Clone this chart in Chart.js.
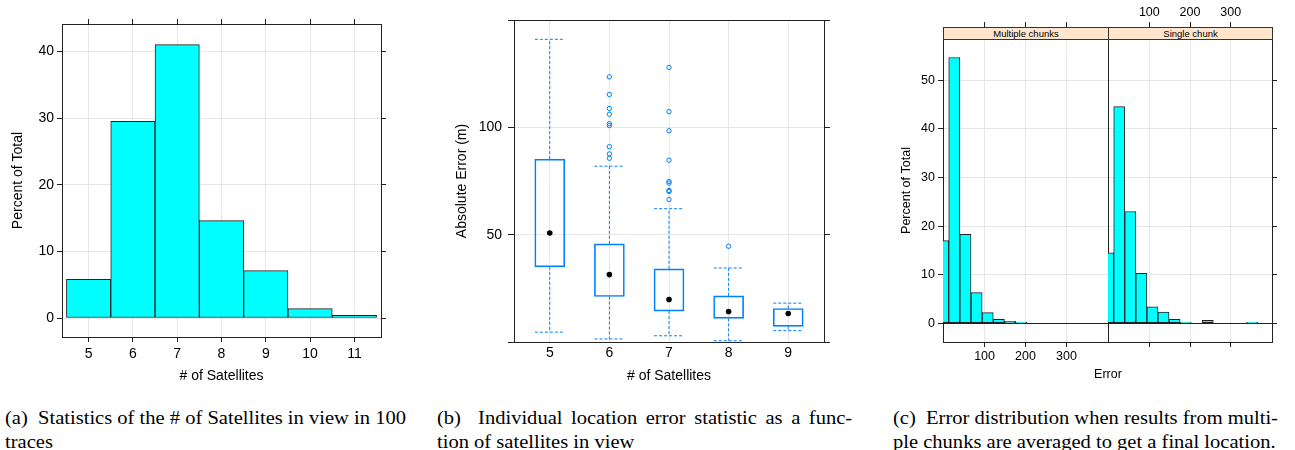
<!DOCTYPE html>
<html>
<head>
<meta charset="utf-8">
<title>Satellites in view and location error</title>
<script src="https://cdn.jsdelivr.net/npm/chart.js@4.4.1/dist/chart.umd.min.js"></script>
<style>
  body { margin: 0; width: 1295px; height: 450px; position: relative; overflow: hidden; background: #fff; font-family: "Liberation Sans", Arial, sans-serif; }
  canvas { position: absolute; top: 0; }
  .strip { position: absolute; top: 27px; height: 13px; box-sizing: border-box; border: 1px solid #333; background: #ffe5cc; font-size: 9.5px; line-height: 11px; text-align: center; color: #000; }
  .xlab { position: absolute; font-size: 12.5px; line-height: 15px; color: #000; transform: translateX(-50%); }
  .cap { position: absolute; font-family: "Liberation Serif", "Times New Roman", serif; font-size: 18.5px; line-height: 24px; color: #000; white-space: nowrap; transform-origin: 0 0; transform: scaleX(1.11); }
  .just { text-align: justify; text-align-last: justify; }
</style>
</head>
<body>
<canvas id="satHist" width="400" height="385" style="left:0"></canvas>
<canvas id="errBox" width="420" height="385" style="left:430px"></canvas>
<canvas id="multiHist" width="218" height="390" style="left:890px"></canvas>
<canvas id="singleHist" width="195" height="390" style="left:1100px"></canvas>
<div class="strip" style="left:943px;width:166px">Multiple chunks</div>
<div class="strip" style="left:1108px;width:165px">Single chunk</div>
<div class="xlab" style="left:1108px;top:367px">Error</div>
<div class="cap" style="left:5px;top:406px">(a)&nbsp; Statistics of the # of Satellites in view in 100<br>traces</div>
<div class="cap" style="left:437px;top:406px"><div class="just" style="width:374px">(b)&nbsp; Individual location error statistic as a func-</div>tion of satellites in view</div>
<div class="cap" style="left:893px;top:406px">(c)&nbsp; Error distribution when results from multi-<br>ple chunks are averaged to get a final location.</div>
<script>
// (a) number of satellites in view
const satCounts = [5, 6, 7, 8, 9, 10, 11];
const satPercent = [5.8, 29.5, 41.0, 14.6, 7.1, 1.4, 0.4];
const satTicks = [5, 6, 7, 8, 9, 10, 11];
const pctTicksA = [0, 10, 20, 30, 40];

// (b) absolute error per number of satellites
const boxSats = [5, 6, 7, 8, 9];
const whiskerLow = [4.6, 1.4, 2.9, 0.6, 5.3];
const boxQ1 = [35.0, 21.2, 14.4, 11.0, 7.3];
const boxMedian = [50.8, 31.4, 19.8, 14.2, 13.3];
const boxQ3 = [85.2, 45.7, 34.1, 21.5, 15.6];
const whiskerHigh = [141.0, 81.9, 62.1, 34.5, 18.1];
const outlierSats = [6, 6, 6, 6, 6, 6, 6, 6, 6, 7, 7, 7, 7, 7, 7, 7, 7, 7, 8];
const outlierErrors = [123.5, 115.3, 108.8, 106.1, 101.7, 100.8, 91.0, 87.6, 85.6,
                       127.9, 107.3, 98.4, 84.7, 74.8, 74.0, 70.6, 70.1, 66.4, 44.6];
const errTicksB = [0, 50, 100, 150];
const errLabelsB = ['', '50', '100', ''];

// (c) error histograms, bin centres in metres
const errBins = [-1.1, 26.1, 53.3, 80.5, 107.7, 134.9, 162.1, 189.3, 216.5, 243.7, 270.9, 298.1, 325.3, 352.5, 379.7];
const multiPercent = [17.0, 54.7, 18.3, 6.3, 2.2, 0.8, 0.4, 0.2, 0, 0, 0, 0, 0, 0, 0];
const singlePercent = [14.5, 44.6, 23.0, 10.3, 3.4, 2.3, 0.8, 0.2, 0, 0.6, 0, 0, 0, 0.2];
const errTicksC = [100, 200, 300];
const pctTicksC = [0, 10, 20, 30, 40, 50];

const FRAME = '#222';
const GRID = '#e6e6e6';
const CYAN = '#00ffff';
const BLUE = '#0080ff';
const capHalf = 0.25;

Chart.defaults.font.family = '"Liberation Sans", Arial, sans-serif';
Chart.defaults.color = '#000';
Chart.defaults.animation = false;

// lattice-like axis: fixed size, ticks from a list, optional labels/title
function axis(position, min, max, ticks, size, opt) {
  const a = {
    type: 'linear', position: position, min: min, max: max, offset: false,
    afterBuildTicks: s => { s.ticks = ticks.map(v => ({ value: v })); },
    afterFit: s => { if (s.isHorizontal()) s.height = size; else s.width = size; },
    grid: {
      display: true, offset: false, drawOnChartArea: !!opt.grid, color: opt.gridColor || GRID,
      drawTicks: !!opt.tick, tickLength: opt.tick || 0, tickColor: FRAME
    },
    border: { display: true, color: FRAME, width: 1 },
    ticks: { display: !!opt.labels, color: '#000', padding: opt.pad || 0, font: { size: opt.fontSize || 14 } },
    title: { display: false }
  };
  if (Array.isArray(opt.labels)) a.ticks.callback = (v, i) => opt.labels[i];
  else if (opt.labels) a.ticks.callback = v => v;
  if (opt.title) a.title = { display: true, text: opt.title, color: '#000', padding: 0, font: { size: opt.fontSize || 14 } };
  return a;
}

const noPlugins = { legend: { display: false }, tooltip: { enabled: false } };

// (a)
new Chart(document.getElementById('satHist'), {
  type: 'bar',
  data: {
    datasets: [{
      data: satCounts.map((s, i) => ({ x: s, y: satPercent[i] })),
      backgroundColor: CYAN, borderColor: FRAME, borderWidth: 1, borderSkipped: false,
      barPercentage: 1, categoryPercentage: 1
    }]
  },
  options: {
    responsive: false,
    layout: { padding: { left: 10, right: 0, top: 0, bottom: 0 } },
    plugins: noPlugins,
    scales: {
      x: axis('bottom', 4.4, 11.6, satTicks, 48, { grid: true, tick: 5, labels: true, pad: 4, title: '# of Satellites' }),
      x2: axis('top', 4.4, 11.6, satTicks, 24, { tick: 5 }),
      y: axis('left', -2.85, 44.1, pctTicksA, 52, { grid: true, tick: 5, labels: true, pad: 3, title: 'Percent of Total' }),
      y2: axis('right', -2.85, 44.1, pctTicksA, 19, { tick: 5 })
    }
  }
});

// (b)
const whiskerPts = [];
const capPts = [];
boxSats.forEach((s, i) => {
  whiskerPts.push({ x: s, y: boxQ3[i] }, { x: s, y: whiskerHigh[i] }, { x: s, y: null });
  whiskerPts.push({ x: s, y: boxQ1[i] }, { x: s, y: whiskerLow[i] }, { x: s, y: null });
  [whiskerHigh[i], whiskerLow[i]].forEach(v => {
    capPts.push({ x: s - capHalf, y: v }, { x: s + capHalf, y: v }, { x: s, y: null });
  });
});

new Chart(document.getElementById('errBox'), {
  type: 'bar',
  data: {
    datasets: [
      {
        type: 'bar', order: 3,
        data: boxSats.map((s, i) => ({ x: s, y: [boxQ1[i], boxQ3[i]] })),
        backgroundColor: 'rgba(0,0,0,0)', borderColor: BLUE, borderWidth: 1, borderSkipped: false,
        barThickness: 30
      },
      {
        type: 'line', order: 2, data: whiskerPts, spanGaps: false,
        borderColor: BLUE, borderWidth: 1, borderDash: [3, 2], pointRadius: 0
      },
      {
        type: 'line', order: 2, data: capPts, spanGaps: false,
        borderColor: BLUE, borderWidth: 1, borderDash: [3, 2], pointRadius: 0
      },
      {
        type: 'line', order: 1, showLine: false,
        data: outlierSats.map((s, i) => ({ x: s, y: outlierErrors[i] })),
        pointRadius: 2.2, pointBorderWidth: 1, pointBorderColor: BLUE, pointBackgroundColor: 'rgba(0,0,0,0)'
      },
      {
        type: 'line', order: 0, showLine: false,
        data: boxSats.map((s, i) => ({ x: s, y: boxMedian[i] })),
        pointRadius: 2.8, pointBorderWidth: 0, pointBackgroundColor: '#000'
      }
    ]
  },
  options: {
    responsive: false,
    layout: { padding: { left: 24, right: 0, top: 0, bottom: 0 } },
    plugins: noPlugins,
    scales: {
      x: axis('bottom', 4.4, 9.6, boxSats, 43, { grid: true, labels: true, pad: 3, title: '# of Satellites' }),
      x2: axis('top', 4.4, 9.6, [], 20, {}),
      y: axis('left', 0, 150, errTicksB, 60, { grid: true, tick: 6, labels: errLabelsB, pad: 6, title: 'Absolute Error (m)' }),
      y2: axis('right', 0, 150, errTicksB, 26, { tick: 6 })
    }
  }
});

// (c) the zero line reads dark there (outline of the empty bins)
const zeroDark = ctx => (ctx.tick && ctx.tick.value === 0 ? FRAME : GRID);

function errorHist(id, values, left) {
  return new Chart(document.getElementById(id), {
    type: 'bar',
    data: {
      datasets: [{
        data: values.map((v, i) => ({ x: errBins[i], y: v })),
        backgroundColor: CYAN, borderColor: FRAME, borderWidth: 1, borderSkipped: false,
        barPercentage: 1, categoryPercentage: 1
      }]
    },
    options: {
      responsive: false,
      layout: { padding: { left: left ? 9 : 0, right: 0, top: 0, bottom: 0 } },
      plugins: noPlugins,
      scales: left ? {
        x: axis('bottom', -1.5, 401.5, errTicksC, 48, { grid: true, tick: 5, labels: true, pad: 2, fontSize: 12.5 }),
        x2: axis('top', -1.5, 401.5, errTicksC, 39, { tick: 17 }),
        y: axis('left', -3.85, 58.5, pctTicksC, 44, { grid: true, gridColor: zeroDark, tick: 5, labels: true, pad: 3, fontSize: 12.5, title: 'Percent of Total' })
      } : {
        x: axis('bottom', -1.5, 401.5, errTicksC, 48, { grid: true, tick: 5 }),
        x2: axis('top', -1.5, 401.5, errTicksC, 39, { tick: 17, labels: true, pad: 2, fontSize: 12.5 }),
        y: axis('left', -3.85, 58.5, pctTicksC, 8, { grid: true, gridColor: zeroDark }),
        y2: axis('right', -3.85, 58.5, pctTicksC, 23, { tick: 5 })
      }
    }
  });
}

errorHist('multiHist', multiPercent, true);
errorHist('singleHist', singlePercent, false);
</script>
</body>
</html>
